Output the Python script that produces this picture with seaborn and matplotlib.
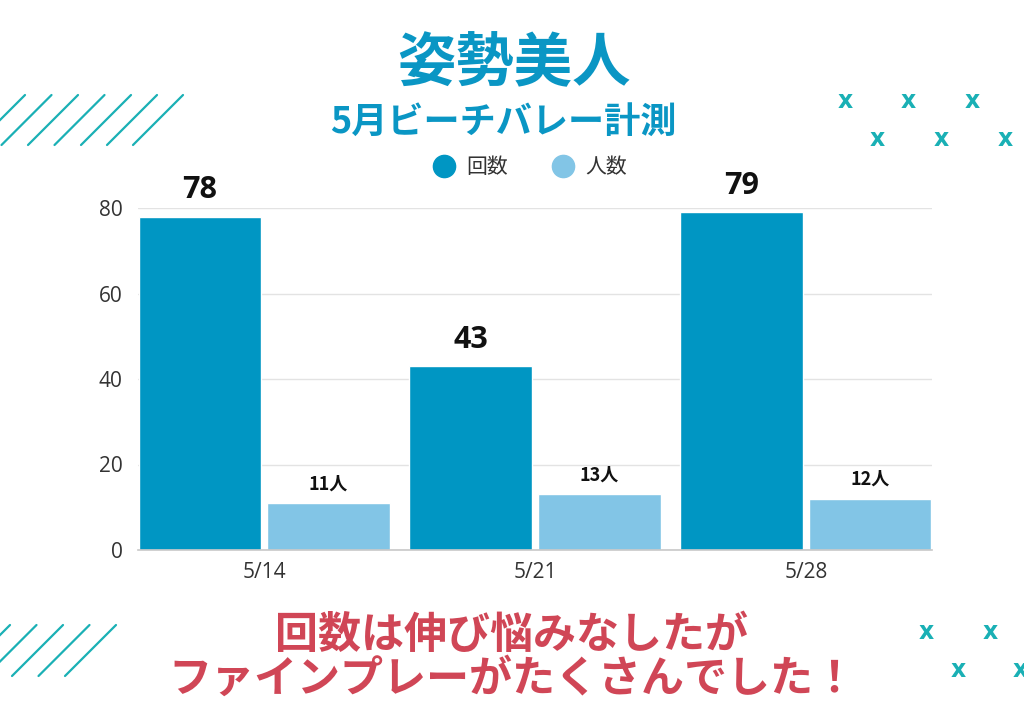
import matplotlib
matplotlib.use("Agg")
import matplotlib.pyplot as plt
from matplotlib.lines import Line2D
import seaborn as sns
import pandas as pd

# ---- data ----
dates = ["5/14", "5/21", "5/28"]
counts = [78, 43, 79]
people = [11, 13, 12]
series_names = ["回数", "人数"]
title = "姿勢美人"
subtitle = "5月ビーチバレー計測"
comment_lines = ["回数は伸び悩みなしたが", "ファインプレーがたくさんでした！"]
yticks = [0, 20, 40, 60, 80]

# ---- style ----
DARK = "#0096C3"
LIGHT = "#82C5E6"
TEAL = "#1AB0B5"
RED = "#D04656"
TITLE_BLUE = "#0A96C4"
CJK = ["Noto Sans CJK JP", "DejaVu Sans"]
LAT = ["Open Sans", "Noto Sans CJK JP", "DejaVu Sans"]

sns.set_theme(style="white")
plt.rcParams["font.family"] = LAT

df = pd.DataFrame({
    "date": dates * 2,
    "value": counts + people,
    "series": [series_names[0]] * len(dates) + [series_names[1]] * len(dates),
})

W, H = 1024, 724
fig = plt.figure(figsize=(W / 100, H / 100), dpi=100)
ax = fig.add_axes([138 / W, 1 - 550 / H, (932 - 138) / W, (550 - 208) / H])

sns.barplot(data=df, x="date", y="value", hue="series", order=dates,
            hue_order=series_names, palette=[DARK, LIGHT], saturation=1,
            width=0.952, gap=0.054, legend=False, ax=ax)

ax.set_xlim(-0.465, len(dates) - 1 + 0.465)
ax.set_ylim(0, 80)
ax.set_yticks(yticks)
ax.set_xlabel("")
ax.set_ylabel("")
for s in ["top", "right", "left"]:
    ax.spines[s].set_visible(False)
ax.spines["bottom"].set_color("#c8c8c8")
ax.spines["bottom"].set_linewidth(1.2)
ax.grid(axis="y", color="#e3e3e3", linewidth=1)
ax.set_axisbelow(True)
ax.tick_params(axis="both", length=0, labelsize=15, colors="#333333")
ax.tick_params(axis="y", pad=11)
ax.tick_params(axis="x", pad=9)

# value labels
ax.bar_label(ax.containers[0], labels=[str(v) for v in counts], padding=8,
             fontsize=22, fontweight="bold", color="#111111", family=LAT)
ax.bar_label(ax.containers[1], labels=[f"{v}人" for v in people], padding=7,
             fontsize=13, fontweight="bold", color="#111111", family=CJK)

# legend
handles = [Line2D([], [], marker="o", linestyle="none", markersize=16,
                  markerfacecolor=c, markeredgecolor=c) for c in (DARK, LIGHT)]
leg = fig.legend(handles, series_names, loc="center", ncol=2, frameon=False,
                 bbox_to_anchor=(530 / W, 1 - 167 / H),
                 handlelength=1.1, handletextpad=0.5, columnspacing=2.1,
                 prop={"family": CJK, "size": 15})
for t in leg.get_texts():
    t.set_color("#333333")

# titles
fig.text(514 / W, 1 - 64 / H, title, ha="center", va="center", fontsize=42,
         fontweight="bold", color=TITLE_BLUE, family=CJK)
fig.text(503 / W, 1 - 122 / H, subtitle, ha="center", va="center", fontsize=26,
         fontweight="bold", color=TITLE_BLUE, family=CJK)

# bottom comment
for txt, yc in zip(comment_lines, [635, 679]):
    fig.text(512 / W, 1 - yc / H, txt, ha="center", va="center", fontsize=31,
             fontweight="bold", color=RED, family=CJK)

# decorative diagonal lines
def diag(tops, ytop, length):
    for t in tops:
        fig.add_artist(Line2D([(t - length) / W, t / W],
                              [1 - (ytop + length) / H, 1 - ytop / H],
                              transform=fig.transFigure, color=TEAL, lw=1.6))

diag([25, 51.5, 78, 104.5, 131, 157, 183], 95, 50)
diag([10, 36.5, 63, 89.5, 116], 625, 51)

# decorative x marks (the last one is cut by the edge, as in the reference)
xmarks = [(845, 101), (908, 101), (972, 101), (877, 139), (941, 139), (1005, 139),
          (926, 632), (990, 632), (958, 670), (1020, 670)]
for xm, ym in xmarks:
    fig.text(xm / W, 1 - ym / H, "x", ha="center", va="center", fontsize=17,
             fontweight="bold", color=TEAL, family=["DejaVu Sans"])

fig.savefig("out.png", dpi=100, facecolor="white")
